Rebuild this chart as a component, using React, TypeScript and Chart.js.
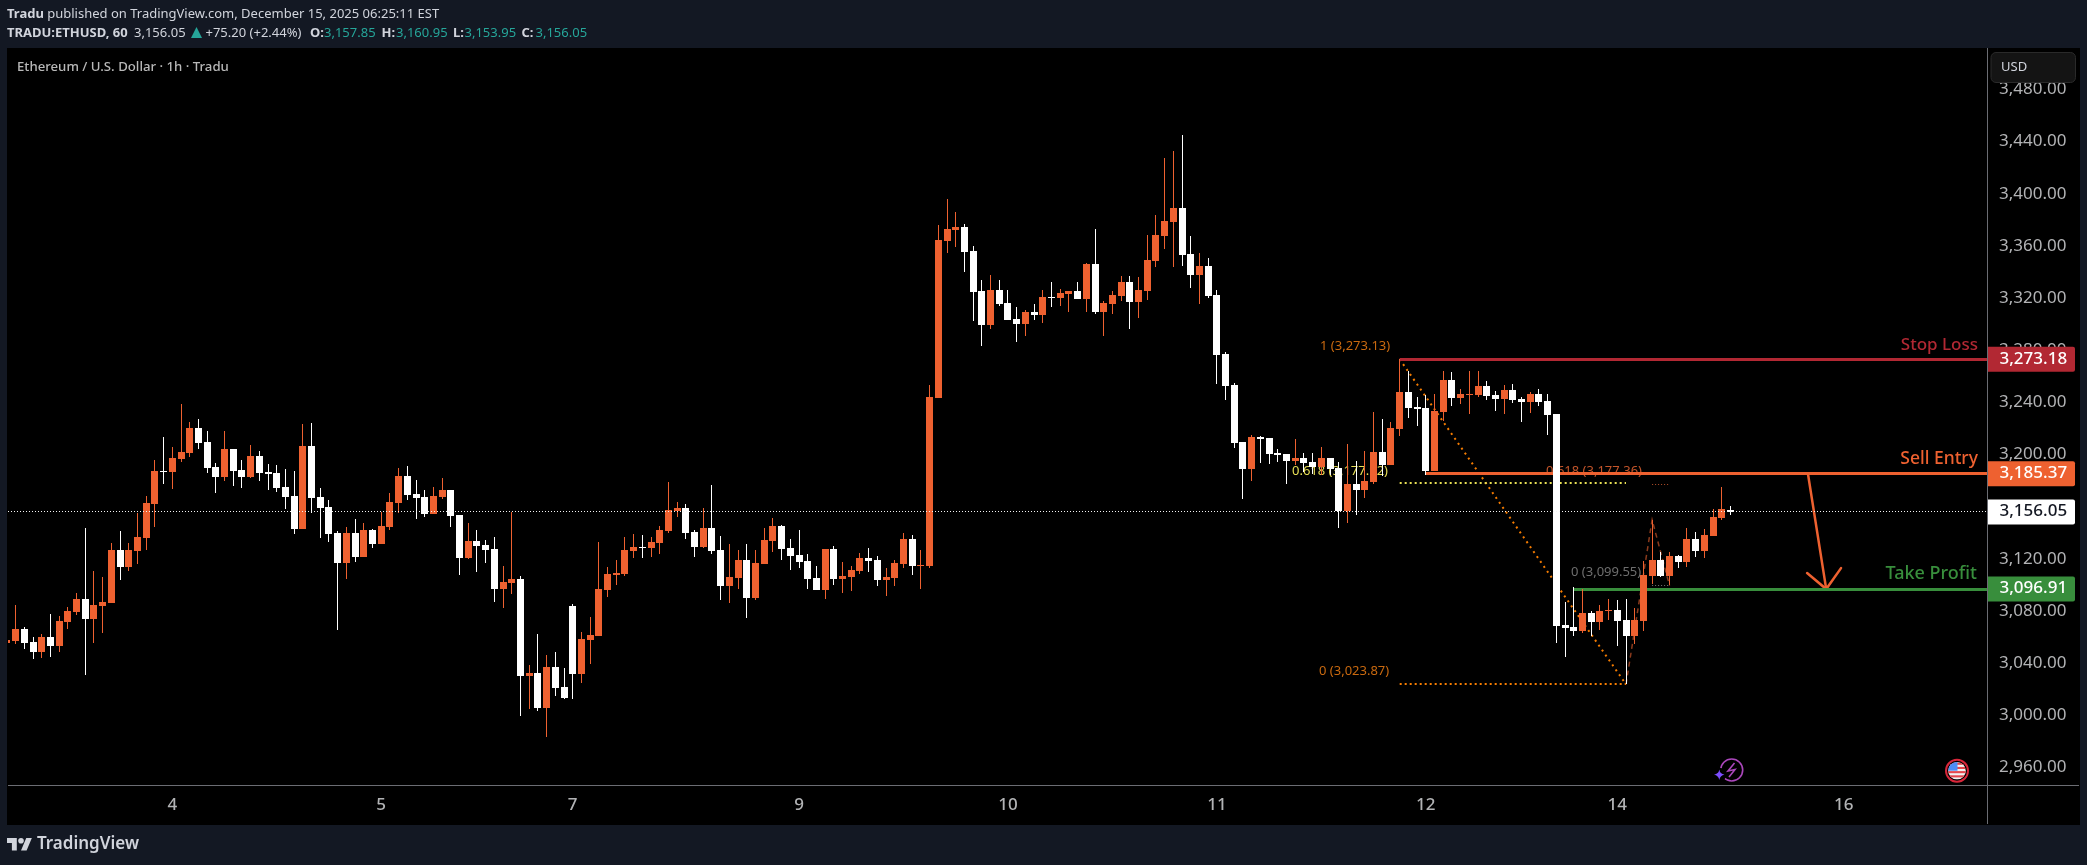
import React, { useEffect, useRef } from "react";
import { Chart, registerables } from "chart.js";

Chart.register(...registerables);

const opens = [
  3055.7, 3057.3, 3066.5, 3056.5, 3048.9, 3060.4, 3053.5, 3071.8, 3079.5, 3089.5,
  3074.2, 3084.1, 3086.4, 3127.0, 3114.0, 3126.3, 3136.2, 3162.3, 3187.6, 3186.8,
  3196.8, 3201.4, 3220.5, 3209.8, 3190.6, 3183.0, 3204.4, 3188.3, 3183.0, 3199.1,
  3186.8, 3186.0, 3175.3, 3168.4, 3143.1, 3206.7, 3167.7, 3160.0, 3140.1, 3117.1,
  3140.1, 3121.7, 3142.4, 3131.6, 3144.7, 3163.0, 3183.7, 3170.0, 3167.7, 3154.6,
  3167.7, 3173.0, 3153.9, 3120.9, 3133.9, 3130.9, 3127.8, 3097.1, 3101.7, 3104.8,
  3030.5, 3032.8, 3006.0, 3037.3, 3022.0, 3084.1, 3032.0, 3058.1, 3061.1, 3096.4,
  3107.9, 3108.6, 3126.3, 3129.3, 3128.6, 3132.4, 3141.6, 3156.9, 3159.2, 3140.8,
  3129.3, 3143.9, 3127.0, 3099.4, 3105.6, 3119.4, 3090.2, 3116.3, 3133.9, 3145.4,
  3128.6, 3123.2, 3118.6, 3105.6, 3096.4, 3127.8, 3104.8, 3106.3, 3110.9, 3120.9,
  3119.4, 3104.0, 3105.6, 3116.3, 3135.5, 3114.8, 3114.8, 3243.5, 3363.8, 3372.3,
  3374.6, 3356.2, 3325.5, 3299.5, 3326.3, 3316.3, 3304.1, 3300.2, 3309.4, 3307.1,
  3320.9, 3320.2, 3323.2, 3325.5, 3319.4, 3346.2, 3309.4, 3315.6, 3321.7, 3332.4,
  3317.1, 3325.5, 3348.5, 3367.7, 3378.4, 3389.1, 3353.9, 3337.8, 3344.7, 3322.5,
  3277.2, 3253.5, 3209.8, 3189.1, 3213.6, 3212.9, 3201.4, 3200.6, 3195.2, 3197.5,
  3194.5, 3190.6, 3197.5, 3189.9, 3156.9, 3177.6, 3173.0, 3179.1, 3202.1, 3192.2,
  3219.8, 3248.1, 3236.6, 3235.9, 3187.6, 3232.8, 3257.3, 3243.5, 3245.8, 3245.8,
  3252.7, 3245.8, 3242.8, 3249.7, 3242.8, 3240.5, 3246.6, 3241.2, 3231.3, 3069.6,
  3068.0, 3065.0, 3078.7, 3071.9, 3080.3, 3081.1, 3073.4, 3061.1, 3072.6, 3107.1,
  3119.4, 3107.1, 3122.4, 3117.8, 3135.5, 3126.3, 3137.8, 3151.6, 3157.85,
];

const closes = [
  3058.1, 3066.5, 3055.8, 3048.9, 3060.4, 3053.5, 3072.6, 3080.3, 3089.5, 3074.2,
  3084.9, 3087.2, 3127.0, 3114.0, 3127.0, 3137.0, 3163.0, 3187.6, 3186.8, 3197.5,
  3202.1, 3220.5, 3209.0, 3189.9, 3183.0, 3204.4, 3187.6, 3183.0, 3199.1, 3186.0,
  3185.3, 3174.6, 3167.7, 3143.1, 3206.7, 3166.9, 3159.2, 3139.3, 3117.1, 3140.1,
  3121.7, 3142.4, 3131.6, 3145.4, 3163.8, 3183.7, 3169.2, 3166.9, 3154.6, 3168.4,
  3173.0, 3153.1, 3120.9, 3133.9, 3130.1, 3127.0, 3097.1, 3102.5, 3104.8, 3030.5,
  3032.8, 3006.0, 3037.3, 3021.3, 3013.6, 3032.0, 3058.8, 3061.9, 3097.1, 3108.6,
  3109.4, 3127.0, 3129.3, 3128.6, 3133.2, 3142.4, 3157.7, 3159.2, 3140.1, 3129.3,
  3143.9, 3126.3, 3099.4, 3106.3, 3119.4, 3090.2, 3117.1, 3134.7, 3145.4, 3127.8,
  3122.4, 3117.8, 3104.8, 3096.4, 3127.8, 3104.8, 3107.1, 3111.7, 3120.9, 3118.6,
  3104.0, 3106.3, 3117.1, 3135.5, 3114.8, 3115.5, 3244.3, 3364.6, 3373.0, 3374.6,
  3355.4, 3324.8, 3299.5, 3326.3, 3315.6, 3303.3, 3300.2, 3309.4, 3307.1, 3320.9,
  3320.2, 3324.0, 3325.5, 3319.4, 3346.2, 3309.4, 3316.3, 3322.5, 3332.4, 3317.1,
  3326.3, 3349.3, 3368.4, 3379.2, 3389.1, 3353.1, 3337.8, 3344.7, 3321.7, 3276.5,
  3252.7, 3209.0, 3189.1, 3213.6, 3212.1, 3200.6, 3199.8, 3195.2, 3197.5, 3193.7,
  3190.6, 3197.5, 3189.1, 3156.9, 3177.6, 3173.0, 3179.9, 3202.1, 3192.2, 3220.5,
  3248.1, 3235.9, 3235.1, 3187.6, 3233.6, 3257.3, 3243.5, 3246.6, 3246.6, 3252.7,
  3245.0, 3242.8, 3249.7, 3242.0, 3240.5, 3246.6, 3240.5, 3230.5, 3068.8, 3067.2,
  3065.0, 3078.7, 3071.9, 3080.3, 3081.1, 3072.6, 3061.1, 3073.4, 3107.9, 3119.4,
  3107.1, 3122.4, 3117.8, 3135.5, 3126.3, 3138.5, 3152.3, 3158.5, 3156.05,
];

const highs = [
  3058.6, 3084.9, 3068.0, 3060.4, 3062.7, 3078.0, 3076.4, 3083.3, 3094.1, 3143.9,
  3110.9, 3106.3, 3132.4, 3141.6, 3132.4, 3155.4, 3168.4, 3196.0, 3213.6, 3206.0,
  3238.9, 3225.1, 3227.4, 3218.2, 3193.7, 3218.2, 3204.4, 3196.0, 3207.5, 3202.9,
  3193.0, 3192.2, 3189.1, 3187.6, 3223.6, 3224.4, 3174.6, 3165.4, 3141.6, 3144.7,
  3150.8, 3147.7, 3143.1, 3156.2, 3170.7, 3189.9, 3191.4, 3180.7, 3173.0, 3175.3,
  3182.2, 3173.0, 3153.9, 3147.7, 3142.4, 3134.7, 3137.0, 3114.8, 3156.2, 3107.1,
  3038.9, 3062.7, 3046.6, 3048.9, 3036.6, 3085.6, 3064.2, 3075.7, 3133.2, 3114.0,
  3119.4, 3137.0, 3139.3, 3138.5, 3137.0, 3145.4, 3179.1, 3163.8, 3162.3, 3142.4,
  3159.2, 3176.8, 3137.8, 3131.6, 3127.0, 3131.6, 3127.0, 3143.9, 3151.6, 3146.2,
  3135.5, 3142.4, 3124.0, 3114.8, 3127.8, 3130.1, 3117.8, 3114.8, 3124.7, 3128.6,
  3122.4, 3113.2, 3119.4, 3140.1, 3138.5, 3127.0, 3253.5, 3376.1, 3396.1, 3386.1,
  3376.9, 3360.0, 3334.0, 3337.8, 3334.0, 3326.3, 3313.3, 3311.0, 3315.6, 3326.3,
  3332.4, 3327.1, 3325.5, 3332.4, 3347.0, 3373.0, 3317.9, 3325.5, 3337.0, 3337.0,
  3336.3, 3368.4, 3383.8, 3427.5, 3432.8, 3445.1, 3367.7, 3354.6, 3350.8, 3326.3,
  3278.8, 3255.0, 3209.8, 3215.2, 3214.4, 3212.9, 3204.4, 3200.6, 3212.1, 3201.4,
  3201.4, 3206.0, 3197.5, 3194.5, 3208.3, 3195.2, 3202.9, 3232.8, 3227.4, 3225.1,
  3273.1, 3264.2, 3244.3, 3245.8, 3246.6, 3264.2, 3263.5, 3250.4, 3264.2, 3264.2,
  3256.5, 3248.9, 3253.5, 3254.2, 3244.3, 3248.1, 3250.4, 3246.6, 3231.3, 3087.2,
  3098.7, 3097.1, 3080.3, 3084.9, 3089.5, 3088.7, 3089.5, 3082.6, 3118.6, 3150.0,
  3125.5, 3125.5, 3123.2, 3143.9, 3140.8, 3143.1, 3158.5, 3175.3, 3160.95,
];

const lows = [
  3055.2, 3055.0, 3051.2, 3043.5, 3044.3, 3045.0, 3048.9, 3066.5, 3077.2, 3031.2,
  3055.8, 3063.4, 3086.4, 3104.0, 3110.9, 3116.3, 3127.0, 3144.7, 3177.6, 3173.8,
  3194.5, 3198.3, 3204.4, 3186.0, 3170.7, 3179.9, 3176.1, 3174.6, 3182.2, 3179.9,
  3173.0, 3171.5, 3158.5, 3139.3, 3143.1, 3155.4, 3136.2, 3133.2, 3065.7, 3104.8,
  3117.8, 3121.7, 3128.6, 3131.6, 3142.4, 3155.4, 3165.4, 3150.8, 3152.3, 3154.6,
  3166.1, 3144.7, 3107.9, 3120.1, 3110.2, 3117.1, 3087.2, 3082.6, 3093.3, 2999.8,
  3005.2, 3003.6, 2983.7, 3015.1, 3012.8, 3012.8, 3025.1, 3039.7, 3061.1, 3091.0,
  3100.2, 3107.1, 3120.9, 3120.9, 3121.7, 3124.0, 3140.1, 3152.3, 3135.5, 3121.7,
  3128.6, 3124.0, 3088.7, 3086.4, 3097.1, 3074.9, 3088.7, 3116.3, 3125.5, 3119.4,
  3111.7, 3113.2, 3097.1, 3096.4, 3089.5, 3100.2, 3094.1, 3095.6, 3108.6, 3110.2,
  3099.4, 3091.8, 3099.4, 3113.2, 3107.9, 3097.1, 3113.2, 3243.5, 3354.6, 3359.3,
  3340.1, 3302.5, 3283.4, 3296.4, 3314.0, 3303.3, 3286.4, 3291.0, 3303.3, 3301.0,
  3313.3, 3314.0, 3309.4, 3319.4, 3309.4, 3307.9, 3291.0, 3307.9, 3317.9, 3296.4,
  3304.8, 3318.6, 3343.9, 3357.7, 3343.9, 3344.7, 3327.8, 3315.6, 3320.2, 3254.2,
  3242.0, 3205.2, 3166.1, 3179.9, 3193.7, 3192.9, 3194.5, 3177.6, 3192.2, 3186.8,
  3185.3, 3184.5, 3184.5, 3144.1, 3147.7, 3153.9, 3166.9, 3177.6, 3183.7, 3192.2,
  3214.4, 3228.2, 3222.1, 3184.5, 3187.6, 3225.9, 3237.4, 3238.9, 3231.3, 3244.3,
  3242.0, 3233.6, 3231.3, 3239.7, 3225.1, 3232.0, 3237.4, 3215.2, 3055.8, 3045.0,
  3061.1, 3063.4, 3061.1, 3065.7, 3073.4, 3053.5, 3023.9, 3055.0, 3065.0, 3101.0,
  3106.3, 3100.2, 3113.2, 3114.0, 3121.7, 3120.9, 3137.8, 3150.0, 3153.95,
];

const priceTicks = [2960, 3000, 3040, 3080, 3120, 3160, 3200, 3240, 3280, 3320, 3360, 3400, 3440, 3480];
const timeTickBars = [19, 43, 65, 91, 115, 139, 163, 185, 211];
const timeTickLabels = ["4", "5", "7", "9", "10", "11", "12", "14", "16"];

const stopLoss = 3273.18;
const sellEntry = 3185.37;
const takeProfit = 3096.91;
const lastPrice = 3156.05;
const fibTop = 3273.13;
const fibMid = 3177.92;
const fibBottom = 3023.87;
const swingHigh = 3150.0;
const swingFibMid = 3177.36;
const swingFibZero = 3099.55;

const arrowShaftX = [206.9, 209];
const arrowShaftY = [sellEntry, takeProfit];
const arrowHeadX = [206.8, 209, 210.7];
const arrowHeadY = [3109.2, takeProfit, 3113];

const ORANGE = "#EE6130";
const WHITE = "#FFFFFF";
const RED = "#B22833";
const GREEN = "#388E3C";
const FIB_ORANGE = "#F57C00";
const FIB_YELLOW = "#E8DF55";
const PANEL = "#131823";
const AXIS_LINE = "#6b6d73";
const TICK_TEXT = "#B2B3B5";
const TEAL = "#26A69A";
const LIGHT = "#D1D4DC";

const X_MIN = 0.126;
const X_MAX = 227.47;
const Y_MIN = 2946.7;
const Y_MAX = 3511.76;

const barIdx = opens.map((_, i) => i);
const candleColors = barIdx.map((i) => (closes[i] >= opens[i] ? ORANGE : WHITE));

const line = (xs: number[], ys: number[], color: string, width: number, dash: number[], order: number, cap = "butt") => ({
  type: "line",
  data: xs.map((x, i) => ({ x, y: ys[i] })),
  borderColor: color,
  borderWidth: width,
  borderDash: dash,
  borderCapStyle: cap,
  pointRadius: 0,
  tension: 0,
  fill: false,
  order,
});

const txt = (c: any, s: string, x: number, y: number, font: string, color: string, align: any = "left") => {
  c.font = font;
  c.fillStyle = color;
  c.textAlign = align;
  c.textBaseline = "middle";
  c.fillText(s, x, y);
};

const FONT = '"Noto Sans", sans-serif';

const snapPlugin = {
  id: "snap",
  afterDatasetsUpdate(chart: any) {
    chart.getSortedVisibleDatasetMetas().forEach((m: any) => {
      if (m.type === "line") {
        const ds = chart.data.datasets[m.index];
        const pts = m.data;
        if (pts.length === 2 && ds.data[0].y === ds.data[1].y) {
          const odd = Math.round(ds.borderWidth) % 2 === 1;
          pts.forEach((p: any) => {
            p.y = odd ? Math.floor(p.y) + 0.5 : Math.round(p.y);
          });
        }
        return;
      }
      m.data.forEach((el: any) => {
        el.x = Math.floor(el.x) + 0.5;
        el.y = Math.round(el.y);
        el.base = Math.round(el.base);
        if (el.base === el.y) el.base = el.y + 1;
      });
    });
  },
};

const framePlugin = {
  id: "frame",
  beforeDraw(chart: any) {
    const c = chart.ctx;
    c.save();
    c.fillStyle = PANEL;
    c.fillRect(0, 0, 2087, 865);
    c.fillStyle = "#000";
    c.fillRect(7, 48, 2073, 777);
    c.restore();
  },
  beforeDatasetsDraw(chart: any) {
    const c = chart.ctx;
    c.save();
    txt(c, "1 (3,273.13)", 1320, 346.5, `13px ${FONT}`, "#C9690F");
    txt(c, "0.618 (3,177.92)", 1292, 471, `13px ${FONT}`, FIB_YELLOW);
    txt(c, "0 (3,023.87)", 1319, 671.5, `13px ${FONT}`, "#C9690F");
    txt(c, "0.618 (3,177.36)", 1546, 471.5, `13px ${FONT}`, "#C4552A");
    txt(c, "0 (3,099.55)", 1571, 572, `13px ${FONT}`, "#6E6E6E");
    c.restore();
  },
  afterDraw(chart: any) {
    const c = chart.ctx;
    const yS = chart.scales.y;
    c.save();

    c.fillStyle = AXIS_LINE;
    c.fillRect(8, 785, 2071, 1);
    c.fillRect(1987, 48, 1, 776);

    txt(c, "Stop Loss", 1978, 345, `500 17px ${FONT}`, RED, "right");
    txt(c, "Sell Entry", 1978, 459, `500 17.5px ${FONT}`, ORANGE, "right");
    txt(c, "Take Profit", 1977, 574, `500 18px ${FONT}`, GREEN, "right");

    const badge = (price: number, s: string, bg: string, fg: string) => {
      const y = yS.getPixelForValue(price);
      c.fillStyle = bg;
      c.beginPath();
      c.roundRect(1988, y - 12.5, 87, 25, [0, 2, 2, 0]);
      c.fill();
      txt(c, s, 1999.5, y - 0.5, `500 17px ${FONT}`, fg);
    };
    badge(stopLoss, "3,273.18", RED, "#FFFFFF");
    badge(sellEntry, "3,185.37", ORANGE, "#FFFFFF");
    badge(takeProfit, "3,096.91", GREEN, "#FFFFFF");
    badge(lastPrice, "3,156.05", "#FFFFFF", "#131722");

    c.fillStyle = "#141414";
    c.strokeStyle = "#2A2A2A";
    c.lineWidth = 1;
    c.beginPath();
    c.roundRect(1991, 52.5, 84.5, 30, 5);
    c.fill();
    c.stroke();
    txt(c, "USD", 2001, 67.5, `13px ${FONT}`, LIGHT);

    txt(c, "Ethereum / U.S. Dollar · 1h · Tradu", 17, 67.5, `500 13.2px ${FONT}`, "#B8B8B8");

    let x = 7;
    let rowY = 14.5;
    const seq = (s: string, font: string, color: string, at?: number) => {
      if (at !== undefined) x = at;
      txt(c, s, x, rowY, font, color);
      x += c.measureText(s).width;
    };
    seq("Tradu", `700 13px ${FONT}`, LIGHT);
    seq(" published on TradingView.com, December 15, 2025 06:25:11 EST", `13px ${FONT}`, LIGHT);
    rowY = 33.5;
    seq("TRADU:ETHUSD, 60", `700 13px ${FONT}`, LIGHT, 7);
    seq("3,156.05", `13px ${FONT}`, LIGHT, 134);
    c.fillStyle = TEAL;
    c.beginPath();
    c.moveTo(196.5, 27);
    c.lineTo(202, 38);
    c.lineTo(191, 38);
    c.closePath();
    c.fill();
    seq("+75.20 (+2.44%)", `13px ${FONT}`, LIGHT, 205.5);
    seq("O:", `700 13px ${FONT}`, LIGHT, 310);
    seq("3,157.85", `13px ${FONT}`, TEAL, 324);
    seq("H:", `700 13px ${FONT}`, LIGHT, 381.5);
    seq("3,160.95", `13px ${FONT}`, TEAL, 396);
    seq("L:", `700 13px ${FONT}`, LIGHT, 453);
    seq("3,153.95", `13px ${FONT}`, TEAL, 464.5);
    seq("C:", `700 13px ${FONT}`, LIGHT, 521.5);
    seq("3,156.05", `13px ${FONT}`, TEAL, 535.5);

    // TradingView mark and name
    c.save();
    c.translate(7, 835.2);
    c.scale(0.7, 0.7);
    c.fillStyle = LIGHT;
    c.fill(new Path2D("M14 22H7V11H0V4h14v18zM28 22h-8l7.5-18h8L28 22z"));
    c.beginPath();
    c.arc(20, 8, 4, 0, Math.PI * 2);
    c.fill();
    c.restore();
    txt(c, "TradingView", 37, 844, `600 17px ${FONT}`, LIGHT);

    // purple lightning badge
    c.strokeStyle = "#AB47BC";
    c.lineWidth = 1.6;
    c.beginPath();
    c.arc(1731.7, 770, 11, 0, Math.PI * 2);
    c.stroke();
    c.beginPath();
    c.moveTo(1734.5, 763);
    c.lineTo(1728, 771);
    c.lineTo(1735, 769.5);
    c.lineTo(1729, 777);
    c.stroke();
    c.fillStyle = "#000";
    c.beginPath();
    c.arc(1719.3, 774.7, 7, 0, Math.PI * 2);
    c.fill();
    c.fillStyle = "#7C4DFF";
    c.beginPath();
    c.moveTo(1719.3, 769.5);
    c.quadraticCurveTo(1720, 774, 1724.5, 774.7);
    c.quadraticCurveTo(1720, 775.4, 1719.3, 780);
    c.quadraticCurveTo(1718.6, 775.4, 1714, 774.7);
    c.quadraticCurveTo(1718.6, 774, 1719.3, 769.5);
    c.fill();

    // US flag badge
    const fx = 1957;
    const fy = 770.7;
    c.strokeStyle = "#D9263A";
    c.lineWidth = 2;
    c.beginPath();
    c.arc(fx, fy, 11, 0, Math.PI * 2);
    c.stroke();
    c.save();
    c.beginPath();
    c.arc(fx, fy, 8.8, 0, Math.PI * 2);
    c.clip();
    c.fillStyle = "#F2F2F2";
    c.fillRect(fx - 9, fy - 9, 18, 18);
    c.fillStyle = "#E5484D";
    for (let k = 0; k < 4; k++) c.fillRect(fx - 9, fy - 8 + k * 4.2, 18, 2.1);
    c.fillStyle = "#4C8DF5";
    c.fillRect(fx - 9, fy - 9, 9.5, 9);
    c.restore();

    c.restore();
  },
};

export default function App() {
  const ref = useRef<HTMLCanvasElement | null>(null);

  useEffect(() => {
    if (!ref.current) return;
    const chart = new Chart(ref.current, {
      type: "bar",
      data: {
        datasets: [
          line([160, X_MAX], [stopLoss, stopLoss], RED, 3, [], 10),
          line([163, X_MAX], [sellEntry, sellEntry], ORANGE, 3, [], 10),
          line([180, X_MAX], [takeProfit, takeProfit], GREEN, 3, [], 10),
          line([X_MIN, X_MAX], [lastPrice, lastPrice], "#F4F4F4", 1, [1, 2], 0),
          line([160, 186], [fibBottom, fibBottom], FIB_ORANGE, 2, [2, 3], 12),
          line([160, 186], [fibMid, fibMid], FIB_YELLOW, 2, [2, 3], 12),
          line([160, 186], [fibTop, fibBottom], FIB_ORANGE, 2, [2, 4], 12),
          line([189, 191], [swingFibMid, swingFibMid], "#B5502A", 1, [1, 2], 12),
          line([189, 191], [swingFibZero, swingFibZero], "#777777", 1, [1, 2], 12),
          line([186, 189, 191], [fibBottom, swingHigh, swingFibZero], "#8A3A1C", 1.5, [5, 4], 12),
          line(arrowShaftX, arrowShaftY, ORANGE, 2.5, [], 11, "round"),
          line(arrowHeadX, arrowHeadY, ORANGE, 2.5, [], 11, "round"),
          {
            type: "bar",
            data: barIdx.map((i) => ({ x: i, y: [lows[i], highs[i]] })),
            backgroundColor: candleColors,
            barThickness: 1,
            grouped: false,
            inflateAmount: 0,
            order: 3,
          },
          {
            type: "bar",
            data: barIdx.map((i) => ({ x: i, y: [opens[i], closes[i]] })),
            backgroundColor: candleColors,
            barThickness: 7,
            grouped: false,
            inflateAmount: 0,
            order: 2,
          },
        ] as any,
      },
      options: {
        responsive: false,
        animation: false,
        devicePixelRatio: 1,
        layout: { padding: { left: 8, right: 8, top: 48, bottom: 40 } },
        plugins: { legend: { display: false }, tooltip: { enabled: false }, title: { display: false } },
        scales: {
          x: {
            type: "linear",
            min: X_MIN,
            max: X_MAX,
            offset: false,
            grid: { display: false, drawTicks: false, offset: false },
            border: { display: false },
            afterBuildTicks: (s: any) => {
              s.ticks = timeTickBars.map((v) => ({ value: v }));
            },
            afterFit: (s: any) => {
              s.height = 40;
              s.paddingLeft = 0;
              s.paddingRight = 0;
            },
            ticks: {
              autoSkip: false,
              maxRotation: 0,
              padding: 10,
              color: TICK_TEXT,
              font: { family: "Noto Sans", size: 17, weight: "500" },
              callback: (v: any) => {
                const k = timeTickBars.indexOf(Number(v));
                return k >= 0 ? timeTickLabels[k] : "";
              },
            },
          },
          y: {
            type: "linear",
            position: "right",
            min: Y_MIN,
            max: Y_MAX,
            grid: { display: false, drawTicks: false },
            border: { display: false },
            afterBuildTicks: (s: any) => {
              s.ticks = priceTicks.map((v) => ({ value: v }));
            },
            afterFit: (s: any) => {
              s.width = 92;
              s.paddingTop = 0;
              s.paddingBottom = 0;
            },
            ticks: {
              autoSkip: false,
              padding: 12,
              color: TICK_TEXT,
              font: { family: "Noto Sans", size: 17 },
              callback: (v: any) =>
                Number(v).toLocaleString("en-US", { minimumFractionDigits: 2, maximumFractionDigits: 2 }),
            },
          },
        },
      } as any,
      plugins: [snapPlugin, framePlugin] as any,
    });
    return () => chart.destroy();
  }, []);

  return (
    <div style={{ position: "fixed", left: 0, top: 0, width: 2087, height: 865, background: PANEL }}>
      <canvas ref={ref} width={2087} height={865} style={{ display: "block", width: 2087, height: 865 }} />
    </div>
  );
}
